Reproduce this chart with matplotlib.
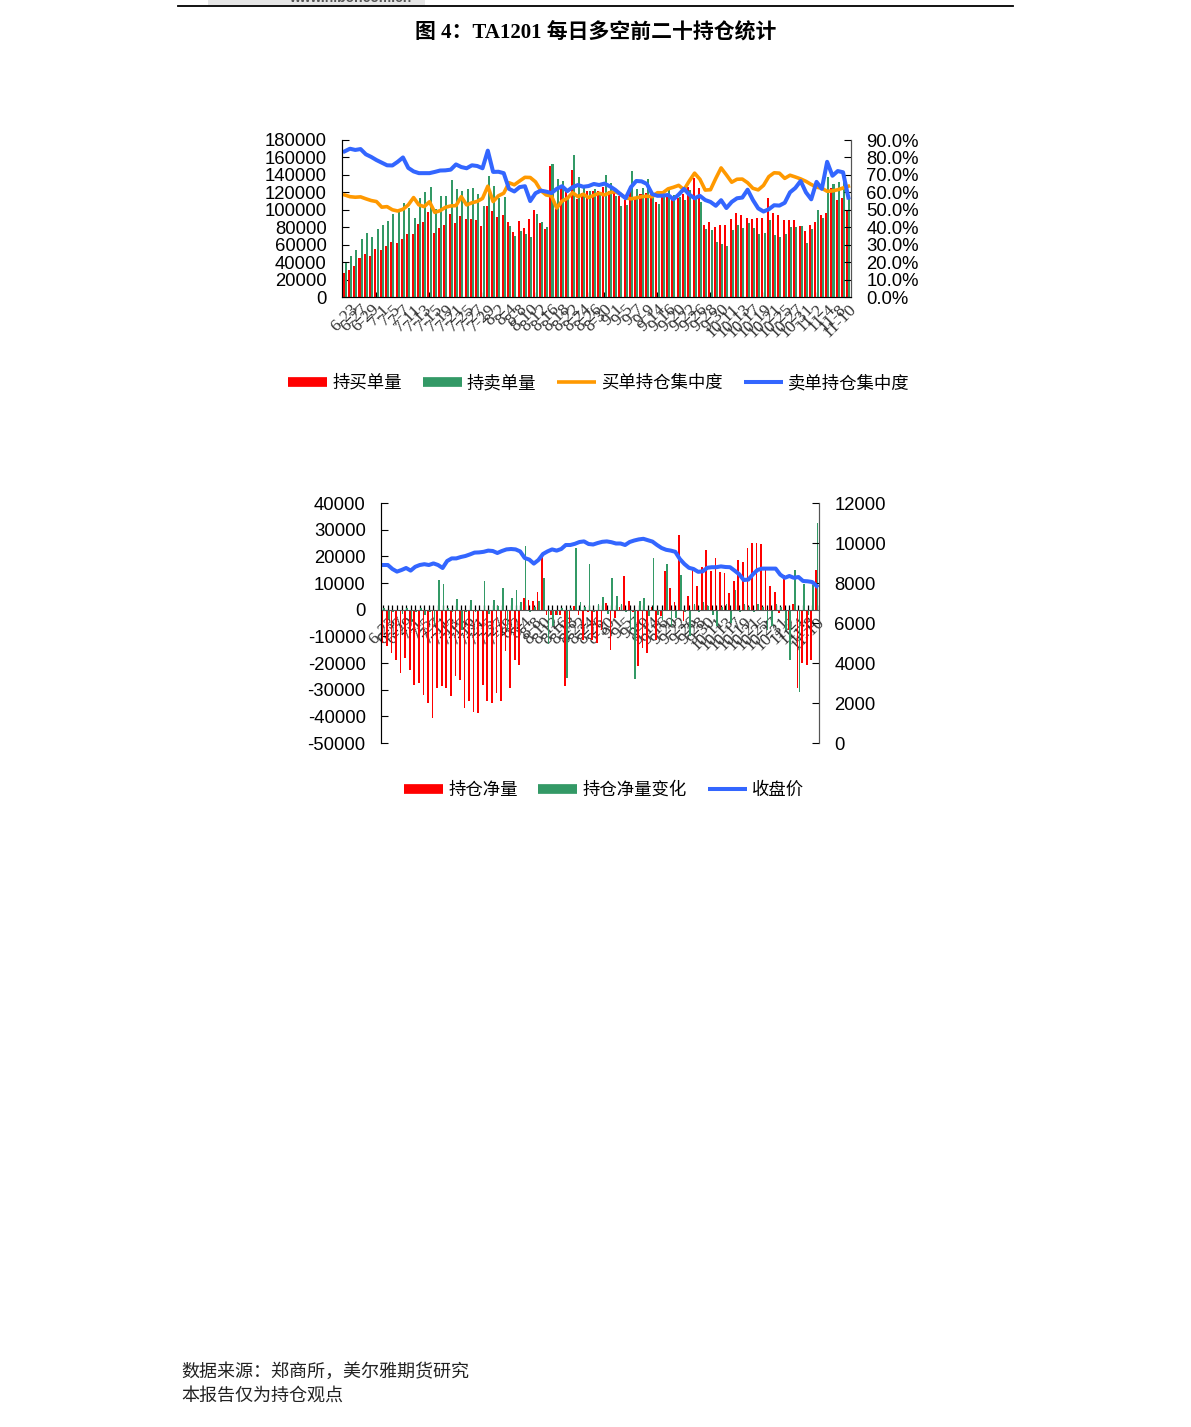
import numpy as np
import matplotlib
matplotlib.use('Agg')
import matplotlib.pyplot as plt
from matplotlib.lines import Line2D
from matplotlib.patches import Rectangle
from matplotlib.ticker import FuncFormatter

plt.rcParams['font.family'] = ['Liberation Sans', 'Noto Sans CJK SC', 'DejaVu Sans']

# 交易日 (2011-06-22 ~ 2011-11-10)
dates = ['6-22', '6-23', '6-24', '6-27', '6-28', '6-29', '6-30',
         '7-1', '7-4', '7-5', '7-6', '7-7', '7-8', '7-11', '7-12', '7-13', '7-14', '7-15',
         '7-18', '7-19', '7-20', '7-21', '7-22', '7-25', '7-26', '7-27', '7-28', '7-29',
         '8-1', '8-2', '8-3', '8-4', '8-5', '8-8', '8-9', '8-10', '8-11', '8-12', '8-15',
         '8-16', '8-17', '8-18', '8-19', '8-22', '8-23', '8-24', '8-25', '8-26', '8-29',
         '8-30', '8-31',
         '9-1', '9-2', '9-5', '9-6', '9-7', '9-8', '9-9', '9-13', '9-14', '9-15', '9-16',
         '9-19', '9-20', '9-21', '9-22', '9-23', '9-26', '9-27', '9-28', '9-29', '9-30',
         '10-10', '10-11', '10-12', '10-13', '10-14', '10-17', '10-18', '10-19', '10-20',
         '10-21', '10-24', '10-25', '10-26', '10-27', '10-28', '10-31',
         '11-1', '11-2', '11-3', '11-4', '11-7', '11-8', '11-9', '11-10']

# 持买单量
buy = [28000, 31000, 36000, 45000, 49000, 47000, 55000, 54000, 59000, 63000, 62000, 67000,
       72000, 72000, 84000, 86000, 97000, 73000, 79000, 82000, 95000, 85000, 93000, 89000,
       90000, 88000, 81000, 104000, 99000, 92000, 94000, 86000,
       75000, 87000, 79000, 89000, 100000, 85000, 78000, 150000, 101000, 127000, 121000, 146000,
       112000, 119000, 121000, 121000, 121000, 126000, 122000, 121000, 116000, 111000, 121000,
       115000, 118000, 119000, 121000, 109000, 115000, 117000, 113000, 114000,
       118000, 126000, 137000, 125000, 83000, 86000, 80000, 82000, 82000, 89000, 96000, 94000,
       91000, 90000, 91000, 91000, 113000, 96000, 94000, 88000, 88000, 88000, 81000, 76000,
       83000, 86000, 94000, 96000, 125000, 111000, 113000, 100000]
# 持卖单量
sell = [39000, 47000, 54000, 67000, 73000, 69000, 78000, 83000, 87000, 95000, 99000, 108000,
        102000, 91000, 113000, 120000, 126000, 101000, 116000, 116000, 134000, 124000, 121000,
        124000, 125000, 118000, 104000, 139000, 127000, 114000, 115000, 81000,
        70000, 76000, 72000, 69000, 95000, 86000, 80000, 152000, 135000, 133000, 115000, 163000,
        138000, 127000, 122000, 124000, 119000, 140000, 131000, 116000, 104000, 106000, 145000,
        124000, 125000, 135000, 117000, 107000, 117000, 123000, 117000, 115000,
        111000, 123000, 113000, 109000, 78000, 77000, 63000, 61000, 59000, 77000, 82000, 79000,
        85000, 79000, 72000, 73000, 88000, 71000, 69000, 72000, 80000, 80000, 81000, 62000,
        78000, 100000, 91000, 138000, 130000, 132000, 134000, 115000]
# 买单持仓集中度 (%)
buy_conc = [58.5, 57.5, 57.2, 57.4, 56.3, 55.3, 54.7, 51.5, 51.8, 50.0, 49.3, 50.3, 52.8, 57.0,
            52.8, 51.8, 54.6, 48.5, 49.5, 51.4, 52.2, 52.4, 57.5, 52.8, 54.0, 54.8, 56.5, 63.5,
            54.7, 58.0, 59.5, 65.5,
            64.3, 66.5, 68.6, 68.5, 66.0, 61.0, 58.5, 57.9, 51.0, 55.0, 56.6, 59.8, 57.5, 58.9,
            57.0, 58.3, 59.5, 58.5, 59.8, 60.4, 59.0, 56.8, 56.3, 56.8, 57.5, 57.8, 57.5, 59.8,
            59.7, 62.0, 62.9, 64.0,
            61.5, 66.5, 71.0, 67.5, 61.3, 61.5, 68.0, 74.0, 70.0, 65.8, 67.5, 67.6, 65.5, 62.3,
            61.4, 64.0, 69.0, 71.2, 71.0, 68.0, 69.8, 68.8, 67.7, 66.3, 64.5, 63.0, 62.3, 60.6,
            60.8, 61.5, 62.5, 63.5]
# 卖单持仓集中度 (%)
sell_conc = [83.5, 85.0, 84.3, 84.8, 81.8, 80.3, 78.5, 77.0, 75.5, 75.4, 77.5, 80.0, 74.0, 72.0,
             71.0, 71.0, 71.0, 71.7, 72.5, 72.6, 73.0, 76.0, 74.5, 73.8, 75.5, 75.1, 73.8, 83.9,
             71.7, 71.8, 71.0, 62.0,
             60.5, 63.0, 63.5, 55.0, 59.5, 61.0, 60.4, 59.6, 62.0, 63.5, 60.7, 63.0, 64.2, 63.2,
             63.6, 64.8, 64.2, 65.0, 63.5, 61.5, 59.0, 56.6, 63.0, 66.5, 66.3, 64.8, 59.0, 58.0,
             58.1, 58.5, 56.0, 58.7,
             62.0, 58.7, 56.6, 58.0, 55.6, 54.5, 52.3, 55.5, 51.0, 54.5, 56.6, 57.0, 61.5, 55.6,
             50.8, 49.0, 50.3, 52.6, 52.4, 54.0, 60.0, 62.5, 66.5, 60.0, 56.0, 66.0, 62.0, 77.5,
             69.5, 72.2, 71.5, 57.0]

# 持仓净量
net = [-12500, -13700, -16200, -18700, -23700, -18100, -22500, -28100, -27500, -31900, -35000,
       -40600, -29400, -28700, -29400, -32500, -25000, -26200, -36900, -34400, -38500, -38700,
       -28100, -34400, -35000, -31200, -34400, -15600, -29400, -18700, -20600, 4400,
       3700, 3400, 6600, 20000, -2000, -2000, -2000, -2000, -28700, -5000, 1500, -2000, -11200,
       -1000, -11200, -12500, -7500, 2500, -15000, -3000, 1000, 12700, 3400, -1000, -21000,
       -14400, -16200, 1000, -11200, -2500, 14400, 8000,
       3000, 28000, -4400, 5000, 16000, 8700, 16000, 22500, 14600, 19400, 14000, 13700, 6200,
       10600, 18700, 18000, 23000, 25000, 25000, 24600, 15400, 8700, 6500, -1200, 13000, -7500,
       2000, -29400, -20000, -20600, -18700, 15000]
# 持仓净量变化
net_chg = [500, -3500, -1000, -500, -1500, 800, -4800, -1000, 500, -2000, -1000, -5600, 11000,
           9700, 500, -1000, 4000, -7500, -800, 3700, -1000, -500, 10600, -1500, 3700, 1500,
           8300, -7500, 4200, 7500, 2700, 24000,
           -1000, 1000, 3400, 12000, -13000, -6000, -2000, 800, -25600, 500, 23000, 3000, 1000,
           17000, -1000, 2000, 4700, -1500, 11900, 5200, 2000, -1000, -8000, -26000, 3400, 4400,
           -2500, 19400, -2000, -3700, 17000, -6000,
           -3000, 13000, -1000, -10000, 2000, -1000, 3000, 1500, -2000, -6200, 1000, 2000, -5000,
           7500, -1000, 2000, 1000, -1000, 2000, 1000, -7500, -6000, 2000, 1000, -7500, -18700,
           15000, -31000, 9700, -2000, 9400, 32500]
# 收盘价
close = [8900, 8900, 8700, 8570, 8650, 8750, 8620, 8810, 8900, 8940, 8900, 8980, 8900, 8750,
         9100, 9230, 9230, 9300, 9350, 9430, 9520, 9530, 9560, 9620, 9600, 9500, 9600, 9680,
         9700, 9680, 9580, 9250, 9170, 8970, 9150, 9450, 9580, 9680, 9620, 9700, 9900, 9900,
         9960, 10050, 10080, 9950, 9925, 10000, 10060, 10080, 10040, 9975, 9975, 9900, 10050,
         10125, 10180, 10210, 10140, 10070, 9900, 9750, 9660, 9620, 9560, 9200, 8950, 8760,
         8700, 8560, 8580, 8760, 8790, 8790, 8830, 8800, 8790, 8620, 8440, 8150, 8170, 8430,
         8650, 8720, 8720, 8720, 8720, 8420, 8260, 8350, 8260, 8300, 8100, 8085, 8050, 7850]

RED = '#FF0000'
GREEN = '#339966'
ORANGE = '#FF9900'
BLUE = '#3366FF'
CJK = ['Noto Sans CJK SC', 'DejaVu Sans']
TICK_FS = 13.3

x = np.arange(len(dates))
fig = plt.figure(figsize=(11.91, 14.27), dpi=100)

# 页眉
fig.add_artist(Line2D([178 / 1191, 1013 / 1191], [1 - 6 / 1427] * 2, color='black', lw=1.3))
fig.add_artist(Rectangle((208 / 1191, 1 - 5 / 1427), 217 / 1191, 5 / 1427,
                         facecolor='#e6e6e6', edgecolor='none'))
fig.text(350 / 1191, 1 + 2 / 1427, 'www.hibor.com.cn', ha='center', va='center',
         fontsize=10, fontweight='bold', color='#555555')

fig.text(596 / 1191, 1 - 32 / 1427, '图 4：TA1201 每日多空前二十持仓统计', ha='center',
         va='center', fontsize=15, fontweight='bold',
         family=['Liberation Serif', 'Noto Sans CJK SC'])


def style_xaxis(ax):
    ax.set_xlim(-0.5, len(dates) - 0.5)
    ax.set_xticks(x)
    ax.set_xticklabels([d if i % 2 == 1 else '' for i, d in enumerate(dates)],
                       rotation=45, ha='right', rotation_mode='anchor',
                       family='Liberation Serif', fontsize=12.5, color='#333333')
    ax.tick_params(axis='x', direction='in', length=3.5, width=0.9, pad=3)


def legend_handle(color, lw):
    return Line2D([], [], color=color, lw=lw, solid_capstyle='butt')


# ---- 图一：持仓量与集中度 ----
ax1 = fig.add_axes([342 / 1191, 1 - 297 / 1427, 509 / 1191, 157 / 1427])
ax1.bar(x - 0.2, buy, width=0.38, color=RED, zorder=2)
ax1.bar(x + 0.2, sell, width=0.38, color=GREEN, zorder=2)
ax1.set_ylim(0, 180000)
ax1.set_yticks(np.arange(0, 180001, 20000))
ax1.tick_params(axis='y', direction='in', length=5, labelsize=TICK_FS, pad=11)
style_xaxis(ax1)
ax1.spines['top'].set_visible(False)
for s in ['left', 'right', 'bottom']:
    ax1.spines[s].set_color('#555555')

ax2 = ax1.twinx()
ax2.plot(x, buy_conc, color=ORANGE, lw=2.6, solid_joinstyle='round')
ax2.plot(x, sell_conc, color=BLUE, lw=2.9, solid_joinstyle='round')
ax2.set_ylim(0, 90)
ax2.set_yticks(np.arange(0, 91, 10))
ax2.yaxis.set_major_formatter(FuncFormatter(lambda v, p: f'{v:.1f}%'))
ax2.tick_params(axis='y', direction='in', length=5, labelsize=TICK_FS, pad=11)
ax2.spines['top'].set_visible(False)
ax2.spines['right'].set_color('#555555')

h1 = [legend_handle(RED, 7), legend_handle(GREEN, 7),
      legend_handle(ORANGE, 2.6), legend_handle(BLUE, 2.9)]
fig.legend(h1, ['持买单量', '持卖单量', '买单持仓集中度', '卖单持仓集中度'],
           loc='center', bbox_to_anchor=(599 / 1191, 1 - 383 / 1427), ncol=4,
           frameon=False, handlelength=2.25, handletextpad=0.3, columnspacing=1.2,
           prop={'family': CJK, 'size': 12.5})

# ---- 图二：净持仓与收盘价 ----
ax3 = fig.add_axes([381 / 1191, 1 - 743 / 1427, 438 / 1191, 240 / 1427])
ax3.spines['bottom'].set_position(('data', 0))
ax3.bar(x - 0.2, net, width=0.38, color=RED, zorder=2)
ax3.bar(x + 0.2, net_chg, width=0.38, color=GREEN, zorder=2)
ax3.set_ylim(-50000, 40000)
ax3.set_yticks(np.arange(-50000, 40001, 10000))
ax3.yaxis.set_major_formatter(FuncFormatter(lambda v, p: f'{v:.0f}'))
ax3.tick_params(axis='y', direction='in', length=5, labelsize=TICK_FS, pad=11)
style_xaxis(ax3)
ax3.spines['top'].set_visible(False)
for s in ['left', 'right', 'bottom']:
    ax3.spines[s].set_color('#555555')

ax4 = ax3.twinx()
ax4.plot(x, close, color=BLUE, lw=2.9, solid_joinstyle='round')
ax4.set_ylim(0, 12000)
ax4.set_yticks(np.arange(0, 12001, 2000))
ax4.tick_params(axis='y', direction='in', length=5, labelsize=TICK_FS, pad=11)
ax4.spines['top'].set_visible(False)
ax4.spines['bottom'].set_visible(False)
ax4.spines['right'].set_color('#555555')

h2 = [legend_handle(RED, 7), legend_handle(GREEN, 7), legend_handle(BLUE, 2.9)]
fig.legend(h2, ['持仓净量', '持仓净量变化', '收盘价'],
           loc='center', bbox_to_anchor=(604 / 1191, 1 - 790 / 1427), ncol=3,
           frameon=False, handlelength=2.25, handletextpad=0.3, columnspacing=1.2,
           prop={'family': CJK, 'size': 12.5})

# 页脚
fig.text(181 / 1191, 1 - 1372 / 1427, '数据来源：郑商所，美尔雅期货研究', ha='left', va='center',
         fontsize=13, family=CJK, color='#222222')
fig.text(181 / 1191, 1 - 1396 / 1427, '本报告仅为持仓观点', ha='left', va='center',
         fontsize=13, family=CJK, color='#222222')

fig.savefig('out.png', dpi=100)
